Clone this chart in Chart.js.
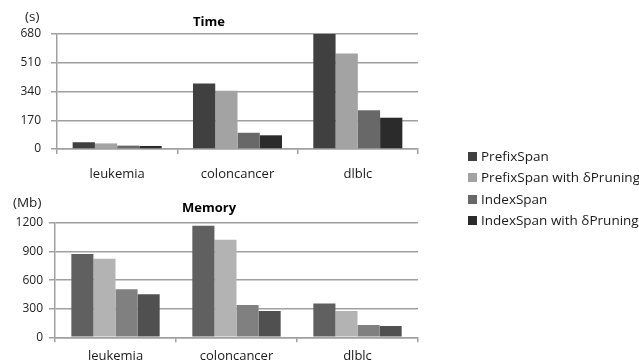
<!DOCTYPE html>
<html lang="en">
<head>
  <meta charset="UTF-8">
  <title>Time and Memory</title>
  <script src="https://cdn.jsdelivr.net/npm/chart.js"></script>
  <style>
    body { margin: 0; background: #fff; width: 639px; height: 364px; overflow: hidden; position: relative; }
    canvas { position: absolute; left: 0; }
    #timeChart { top: 0; }
    #memoryChart { top: 185px; }
    #legend { position: absolute; left: 468px; top: 146px; font: 13.5px "Open Sans", sans-serif; color: #1a1a1a; white-space: nowrap; z-index: 2; }
    #legend div { height: 21.3px; line-height: 21px; }
    #legend span { display: inline-block; width: 9px; height: 9px; margin-right: 4px; }
  </style>
</head>
<body>
  <canvas id="timeChart" width="506" height="190"></canvas>
  <canvas id="memoryChart" width="500" height="179"></canvas>
  <div id="legend"></div>

  <script>
    const categories = ['leukemia', 'coloncancer', 'dlblc'];
    const seriesNames = ['PrefixSpan', 'PrefixSpan with δPruning', 'IndexSpan', 'IndexSpan with δPruning'];

    // Time (s)
    const timePrefixSpan = [40, 388, 680];
    const timePrefixSpanPruning = [33, 345, 564];
    const timeIndexSpan = [20, 96, 229];
    const timeIndexSpanPruning = [18, 81, 185];
    const timeTicks = [0, 170, 340, 510, 680];

    // Memory (Mb)
    const memPrefixSpan = [874, 1172, 354];
    const memPrefixSpanPruning = [824, 1024, 277];
    const memIndexSpan = [505, 340, 130];
    const memIndexSpanPruning = [453, 277, 119];
    const memTicks = [0, 300, 600, 900, 1200];

    const timeColors = ['#404040', '#a3a3a3', '#686868', '#2b2b2b'];
    const memColors = ['#606060', '#b3b3b3', '#808080', '#505050'];

    const gridGray = '#a0a0a0';

    const unitLabel = {
      id: 'unitLabel',
      afterDraw(chart, args, opts) {
        const ctx = chart.ctx;
        ctx.save();
        ctx.font = '13.5px "Open Sans", sans-serif';
        ctx.fillStyle = '#222';
        ctx.textAlign = 'left';
        ctx.textBaseline = 'middle';
        ctx.fillText(opts.text, opts.x, opts.y);
        ctx.restore();
      }
    };

    function makeChart(id, title, values, colors, ticks, o) {
      const datasets = values.map((v, i) => ({
        label: seriesNames[i],
        data: v,
        backgroundColor: colors[i],
        borderWidth: 0,
        barPercentage: 1,
        categoryPercentage: o.cat
      }));
      return new Chart(document.getElementById(id), {
        type: 'bar',
        data: { labels: categories, datasets: datasets },
        plugins: [unitLabel],
        options: {
          responsive: false,
          animation: false,
          layout: { padding: { left: 0, right: o.padRight, top: 0, bottom: 0 } },
          plugins: {
            legend: { display: false },
            tooltip: { enabled: false },
            title: {
              display: true,
              text: title,
              color: '#000',
              font: { family: 'Open Sans', size: 13, weight: 'bold' },
              padding: { top: o.titleTop, bottom: o.titleBottom }
            },
            unitLabel: { text: o.unit, x: o.unitX, y: o.unitY }
          },
          scales: {
            x: {
              afterFit: s => { s.height = o.xHeight; },
              grid: { display: true, drawOnChartArea: false, drawTicks: true, tickLength: 5, offset: true, color: gridGray, lineWidth: 1.5 },
              border: { display: true, color: gridGray, width: 1.5 },
              ticks: { color: '#1a1a1a', padding: o.xPad, font: { family: 'Open Sans', size: 13 } }
            },
            y: {
              min: 0,
              max: ticks[ticks.length - 1],
              afterFit: s => { s.width = o.yWidth; },
              afterBuildTicks: s => { s.ticks = ticks.map(v => ({ value: v })); },
              grid: { color: gridGray, lineWidth: 1.5, drawTicks: true, tickLength: 6 },
              border: { display: true, color: gridGray, width: 1.5 },
              ticks: { color: '#222', padding: o.yPad, font: { family: 'Open Sans', size: 12 }, callback: v => String(v) }
            }
          }
        }
      });
    }

    makeChart('timeChart', 'Time',
      [timePrefixSpan, timePrefixSpanPruning, timeIndexSpan, timeIndexSpanPruning],
      timeColors, timeTicks,
      { cat: 0.74, padRight: 88, titleTop: 14, titleBottom: 4.4, xHeight: 41, xPad: 12, yWidth: 57, yPad: 10,
        unit: '(s)', unitX: 25, unitY: 17 });

    makeChart('memoryChart', 'Memory',
      [memPrefixSpan, memPrefixSpanPruning, memIndexSpan, memIndexSpanPruning],
      memColors, memTicks,
      { cat: 0.73, padRight: 82, titleTop: 15, titleBottom: 7.4, xHeight: 26.7, xPad: 6, yWidth: 55, yPad: 6,
        unit: '(Mb)', unitX: 13, unitY: 18 });

    const legend = document.getElementById('legend');
    seriesNames.forEach((name, i) => {
      const row = document.createElement('div');
      const box = document.createElement('span');
      box.style.background = timeColors[i];
      row.appendChild(box);
      row.appendChild(document.createTextNode(name));
      legend.appendChild(row);
    });
  </script>
</body>
</html>
